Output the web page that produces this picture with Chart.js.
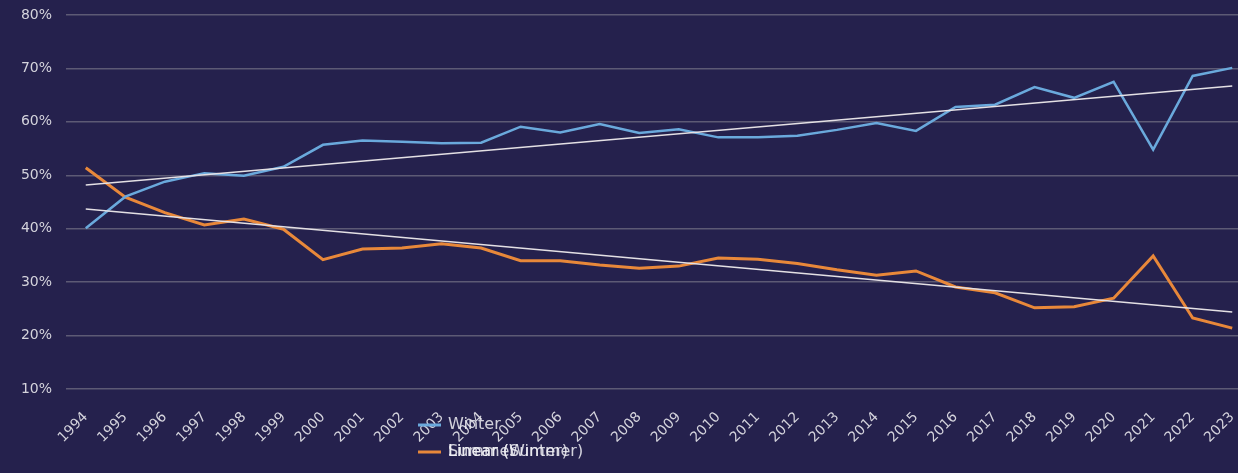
<!DOCTYPE html>
<html>
<head>
<meta charset="utf-8">
<script src="https://cdn.jsdelivr.net/npm/chart.js@4"></script>
<style>
  html, body { margin: 0; padding: 0; background: #25214d; overflow: hidden; }
  #wrap { width: 1260px; height: 473px; }
</style>
</head>
<body>
<div id="wrap"><canvas id="chart" width="1260" height="473"></canvas></div>
<script>
// 年
const years = [
  "1994", "1995", "1996", "1997", "1998", "1999", "2000", "2001", "2002", "2003",
  "2004", "2005", "2006", "2007", "2008", "2009", "2010", "2011", "2012", "2013",
  "2014", "2015", "2016", "2017", "2018", "2019", "2020", "2021", "2022", "2023",
];

// Winter (%)
const winter = [
  40.1, 46.0, 48.8, 50.4, 49.9, 51.6, 55.7, 56.5, 56.3, 56.0,
  56.1, 59.1, 58.0, 59.6, 57.9, 58.6, 57.1, 57.1, 57.4, 58.5,
  59.8, 58.3, 62.8, 63.2, 66.5, 64.5, 67.5, 54.8, 68.6, 70.1,
];

// Summer (%)
const summer = [
  51.4, 45.9, 43.0, 40.7, 41.8, 39.9, 34.2, 36.2, 36.4, 37.2,
  36.4, 34.0, 34.0, 33.2, 32.6, 33.0, 34.5, 34.3, 33.5, 32.3,
  31.3, 32.1, 29.1, 28.0, 25.2, 25.4, 27.0, 34.9, 23.3, 21.4,
];

// 近似直線 (両端の値のみ)
const winterTrendEnds = [48.2, 66.7];
const summerTrendEnds = [43.7, 24.4];

const yTicks = [10, 20, 30, 40, 50, 60, 70, 80];

const trendSeries = (ends) =>
  years.map((_, i) => (i === 0 ? ends[0] : i === years.length - 1 ? ends[1] : null));

// 重なった凡例
const legendItems = [
  { text: "Winter", color: "#6aa9dc", row: 0 },
  { text: "Linear (Winter)", color: null, row: 1 },
  { text: "Summer", color: "#e8883a", row: 1 },
  { text: "Linear (Summer)", color: null, row: 1 },
];

const overlapLegend = {
  id: "overlapLegend",
  afterDraw(chart) {
    const { ctx } = chart;
    ctx.save();
    ctx.font = "16px 'DejaVu Sans', sans-serif";
    ctx.textBaseline = "middle";
    legendItems.forEach((item) => {
      const y = 425 + item.row * 27;
      if (item.color) {
        ctx.strokeStyle = item.color;
        ctx.lineWidth = 3;
        ctx.beginPath();
        ctx.moveTo(418, y);
        ctx.lineTo(441, y);
        ctx.stroke();
      }
      ctx.fillStyle = "rgba(240,240,245,0.85)";
      ctx.fillText(item.text, 448, y);
    });
    ctx.restore();
  },
};

const ctx = document.getElementById("chart").getContext("2d");

new Chart(ctx, {
  type: "line",
  data: {
    labels: years,
    datasets: [
      {
        label: "Linear (Winter)",
        data: trendSeries(winterTrendEnds),
        borderColor: "#e4e0e4",
        borderWidth: 1.5,
        pointRadius: 0,
        spanGaps: true,
      },
      {
        label: "Linear (Summer)",
        data: trendSeries(summerTrendEnds),
        borderColor: "#e4e0e4",
        borderWidth: 1.5,
        pointRadius: 0,
        spanGaps: true,
      },
      {
        label: "Winter",
        data: winter,
        borderColor: "#6aa9dc",
        borderWidth: 2.5,
        pointRadius: 0,
        tension: 0,
      },
      {
        label: "Summer",
        data: summer,
        borderColor: "#e8883a",
        borderWidth: 3,
        pointRadius: 0,
        tension: 0,
      },
    ],
  },
  options: {
    responsive: false,
    animation: false,
    layout: { padding: { top: 15, right: 8, left: 0, bottom: 0 } },
    plugins: {
      legend: { display: false },
      tooltip: { enabled: false },
    },
    scales: {
      x: {
        offset: true,
        grid: { display: false },
        border: { display: false },
        afterFit(scale) {
          scale.height = 84;
        },
        ticks: {
          color: "#d4d3dc",
          font: { family: "'DejaVu Sans', sans-serif", size: 14 },
          minRotation: 45,
          maxRotation: 45,
          autoSkip: false,
          padding: 12,
        },
      },
      y: {
        min: 10,
        max: 80,
        afterFit(scale) {
          scale.width = 66;
          scale.paddingTop = 0;
          scale.paddingBottom = 0;
        },
        afterBuildTicks(scale) {
          scale.ticks = yTicks.map((v) => ({ value: v }));
        },
        grid: { color: "#5d5a75", lineWidth: 1.5, drawTicks: false },
        border: { display: false },
        ticks: {
          color: "#d4d3dc",
          font: { family: "'DejaVu Sans', sans-serif", size: 14 },
          padding: 14,
          callback: (v) => v + "%",
        },
      },
    },
  },
  plugins: [overlapLegend],
});
</script>
</body>
</html>
